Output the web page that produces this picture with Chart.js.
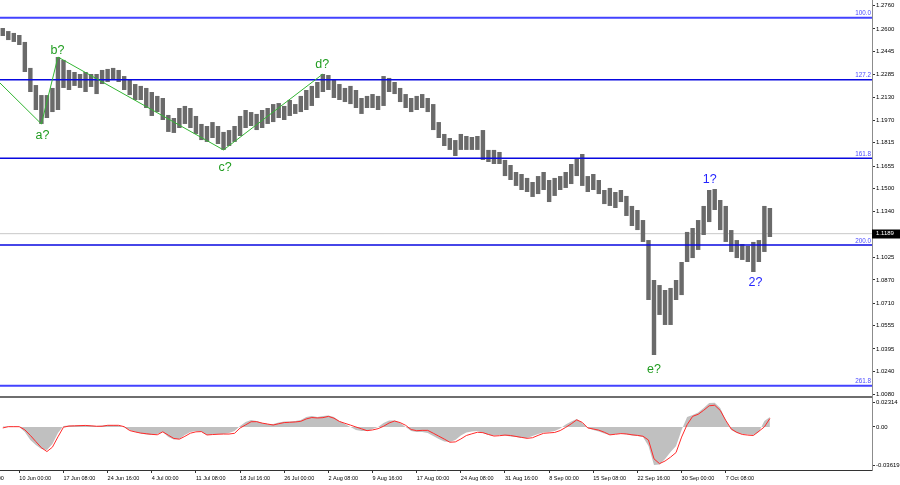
<!DOCTYPE html>
<html lang="en">
<head>
<meta charset="UTF-8">
<title>GBPUSD H4</title>
<script src="https://cdn.jsdelivr.net/npm/chart.js"></script>
<style>
    body { margin: 0; background: #fff; }
    #wrap { width: 900px; height: 485px; }
</style>
</head>
<body>
<div id="wrap"><canvas id="chart" width="900" height="485"></canvas></div>
<script>
// one bar = 16 hours (4 H4 candles), index 0 = first visible bar
const barHigh = [
    1.2606, 1.2585, 1.2572, 1.2558, 1.2510, 1.2331, 1.2213, 1.2144, 1.2144, 1.2193,
    1.2406, 1.2386, 1.2317, 1.2303, 1.2289, 1.2303, 1.2289, 1.2289, 1.2317, 1.2324,
    1.2331, 1.2317, 1.2275, 1.2248, 1.2220, 1.2207, 1.2193, 1.2165, 1.2138, 1.2124,
    1.2007, 1.1986, 1.2055, 1.2069, 1.2055, 1.2000, 1.1945, 1.1931, 1.1958, 1.1931,
    1.1890, 1.1903, 1.1931, 1.2000, 1.2041, 1.2027, 1.2014, 1.2041, 1.2055, 1.2082,
    1.2089, 1.2069, 1.2110, 1.2082, 1.2138, 1.2179, 1.2207, 1.2234, 1.2289, 1.2282,
    1.2248, 1.2220, 1.2193, 1.2207, 1.2179, 1.2124, 1.2138, 1.2151, 1.2138, 1.2275,
    1.2262, 1.2234, 1.2193, 1.2151, 1.2124, 1.2138, 1.2151, 1.2124, 1.2082, 1.1958,
    1.1876, 1.1848, 1.1834, 1.1876, 1.1862, 1.1855, 1.1862, 1.1903, 1.1766, 1.1766,
    1.1752, 1.1697, 1.1662, 1.1614, 1.1600, 1.1573, 1.1545, 1.1586, 1.1614, 1.1559,
    1.1573, 1.1586, 1.1614, 1.1669, 1.1710, 1.1738, 1.1586, 1.1600, 1.1559, 1.1490,
    1.1504, 1.1476, 1.1490, 1.1449, 1.1380, 1.1352, 1.1283, 1.1145, 1.0870, 1.0835,
    1.0801, 1.0815, 1.0870, 1.0994, 1.1201, 1.1228, 1.1283, 1.1380, 1.1490, 1.1497,
    1.1421, 1.1380, 1.1214, 1.1145, 1.1118, 1.1104, 1.1132, 1.1145, 1.1380, 1.1366
];
const barLow = [
    1.2551, 1.2523, 1.2510, 1.2489, 1.2303, 1.2165, 1.2041, 1.1945, 1.1986, 1.2027,
    1.2041, 1.2193, 1.2179, 1.2207, 1.2193, 1.2165, 1.2200, 1.2151, 1.2220, 1.2234,
    1.2248, 1.2234, 1.2179, 1.2144, 1.2110, 1.2110, 1.2055, 1.2000, 1.2027, 1.1972,
    1.1890, 1.1883, 1.1917, 1.1945, 1.1917, 1.1876, 1.1834, 1.1821, 1.1848, 1.1807,
    1.1766, 1.1793, 1.1821, 1.1862, 1.1917, 1.1931, 1.1903, 1.1917, 1.1945, 1.1958,
    1.1986, 1.1972, 1.2000, 1.2014, 1.2027, 1.2041, 1.2069, 1.2124, 1.2165, 1.2179,
    1.2124, 1.2110, 1.2096, 1.2082, 1.2055, 1.2014, 1.2055, 1.2055, 1.2041, 1.2069,
    1.2165, 1.2151, 1.2096, 1.2055, 1.2027, 1.2041, 1.2055, 1.2027, 1.1903, 1.1848,
    1.1793, 1.1766, 1.1724, 1.1766, 1.1766, 1.1766, 1.1766, 1.1697, 1.1683, 1.1669,
    1.1669, 1.1586, 1.1559, 1.1518, 1.1490, 1.1476, 1.1442, 1.1462, 1.1490, 1.1407,
    1.1449, 1.1490, 1.1504, 1.1531, 1.1586, 1.1518, 1.1476, 1.1490, 1.1462, 1.1393,
    1.1380, 1.1366, 1.1407, 1.1311, 1.1242, 1.1214, 1.1132, 1.0732, 1.0353, 1.0629,
    1.0560, 1.0560, 1.0732, 1.0766, 1.0994, 1.1021, 1.1077, 1.1180, 1.1269, 1.1352,
    1.1214, 1.1132, 1.1063, 1.1021, 1.1008, 1.0994, 1.0925, 1.0994, 1.1063, 1.1166
];

// MACD panel: histogram (grey) and signal (red)
const histValues = [
    0.0005, 0.0005, 0.0005, 0.0000, -0.0048, -0.0124, -0.0171, -0.0209, -0.0219, -0.0162,
    -0.0057, 0.0010, 0.0014, 0.0014, 0.0017, 0.0019, 0.0014, 0.0010, 0.0014, 0.0019,
    0.0019, 0.0014, -0.0005, -0.0029, -0.0048, -0.0062, -0.0071, -0.0076, -0.0067, -0.0048,
    -0.0095, -0.0119, -0.0114, -0.0076, -0.0048, -0.0038, -0.0048, -0.0076, -0.0071, -0.0067,
    -0.0067, -0.0057, -0.0038, 0.0010, 0.0048, 0.0067, 0.0057, 0.0038, 0.0029, 0.0029,
    0.0043, 0.0052, 0.0052, 0.0057, 0.0067, 0.0095, 0.0105, 0.0095, 0.0105, 0.0109,
    0.0095, 0.0057, 0.0029, 0.0000, -0.0029, -0.0038, -0.0038, -0.0019, 0.0000, 0.0038,
    0.0062, 0.0062, 0.0038, 0.0000, -0.0038, -0.0048, -0.0048, -0.0057, -0.0086, -0.0114,
    -0.0138, -0.0143, -0.0124, -0.0081, -0.0052, -0.0043, -0.0038, -0.0057, -0.0076, -0.0081,
    -0.0076, -0.0081, -0.0090, -0.0095, -0.0105, -0.0105, -0.0086, -0.0067, -0.0052, -0.0048,
    -0.0038, -0.0014, 0.0024, 0.0052, 0.0076, 0.0038, -0.0010, -0.0029, -0.0043, -0.0062,
    -0.0076, -0.0067, -0.0062, -0.0071, -0.0081, -0.0086, -0.0095, -0.0181, -0.0362, -0.0357,
    -0.0305, -0.0238, -0.0181, -0.0029, 0.0095, 0.0114, 0.0138, 0.0181, 0.0228, 0.0231,
    0.0181, 0.0067, -0.0029, -0.0057, -0.0067, -0.0071, -0.0076, -0.0048, 0.0057, 0.0095
];
const signalValues = [
    -0.0009, 0.0003, 0.0003, 0.0003, -0.0027, -0.0080, -0.0139, -0.0197, -0.0234, -0.0192,
    -0.0094, -0.0002, 0.0009, 0.0011, 0.0013, 0.0015, 0.0011, 0.0007, 0.0007, 0.0016,
    0.0016, 0.0016, 0.0003, -0.0034, -0.0047, -0.0058, -0.0064, -0.0070, -0.0074, -0.0046,
    -0.0078, -0.0109, -0.0116, -0.0089, -0.0059, -0.0046, -0.0044, -0.0076, -0.0072, -0.0069,
    -0.0067, -0.0067, -0.0060, -0.0010, 0.0020, 0.0050, 0.0051, 0.0037, 0.0028, 0.0019,
    0.0031, 0.0042, 0.0045, 0.0048, 0.0054, 0.0077, 0.0090, 0.0086, 0.0089, 0.0101,
    0.0084, 0.0053, 0.0035, 0.0018, 0.0000, -0.0017, -0.0035, -0.0028, -0.0016, 0.0007,
    0.0038, 0.0057, 0.0042, 0.0016, -0.0024, -0.0035, -0.0032, -0.0032, -0.0059, -0.0087,
    -0.0115, -0.0145, -0.0142, -0.0114, -0.0081, -0.0065, -0.0050, -0.0054, -0.0071, -0.0086,
    -0.0083, -0.0077, -0.0081, -0.0090, -0.0099, -0.0108, -0.0102, -0.0080, -0.0060, -0.0056,
    -0.0052, -0.0034, -0.0004, 0.0030, 0.0068, 0.0044, -0.0009, -0.0019, -0.0030, -0.0050,
    -0.0075, -0.0069, -0.0063, -0.0066, -0.0074, -0.0080, -0.0088, -0.0124, -0.0303, -0.0349,
    -0.0324, -0.0287, -0.0243, -0.0096, 0.0022, 0.0101, 0.0121, 0.0159, 0.0202, 0.0207,
    0.0158, 0.0063, -0.0019, -0.0051, -0.0071, -0.0077, -0.0081, -0.0041, 0.0001, 0.0081
];

const priceTicks = [1.2760, 1.2600, 1.2445, 1.2285, 1.2130, 1.1970, 1.1815, 1.1655, 1.1500,
    1.1340, 1.1025, 1.0870, 1.0710, 1.0555, 1.0395, 1.0240, 1.0080];
const oscTicks = [0.02314, 0, -0.03619];
const oscTickText = ['0.02314', '0.00', '-0.03619'];

const timeTickIdx = [-5, 3, 11, 19, 27, 35, 43, 51, 59, 67, 75, 83, 91, 99, 107, 115, 123, 131];
const timeTickText = ['2 Jun 16:00', '10 Jun 00:00', '17 Jun 08:00', '24 Jun 16:00', '4 Jul 00:00',
    '11 Jul 08:00', '18 Jul 16:00', '26 Jul 00:00', '2 Aug 08:00', '9 Aug 16:00', '17 Aug 00:00',
    '24 Aug 08:00', '31 Aug 16:00', '8 Sep 00:00', '15 Sep 08:00', '22 Sep 16:00', '30 Sep 00:00',
    '7 Oct 08:00'];

const fibNames = ['100.0', '127.2', '161.8', '200.0', '261.8'];
const fibPrices = [1.2677, 1.2250, 1.1708, 1.1111, 1.0142];
const lastPrice = 1.1189;

const zigzagIdx = [-0.5, 7, 10, 40, 58];
const zigzagPrice = [1.2227, 1.1945, 1.2406, 1.1766, 1.2289];

const waveText = ['a?', 'b?', 'c?', 'd?', 'e?', '1?', '2?'];
const waveIdx = [7.2, 9.9, 40.3, 57.9, 118, 128.1, 136.4];
const wavePrice = [1.1862, 1.2448, 1.1648, 1.2351, 1.0250, 1.1562, 1.0849];

const SLOTS = 158; // bars that fit in the plot including the empty shift on the right
const FONT = "'Liberation Sans', Arial, sans-serif";

const datasets = [];

datasets.push({
    type: 'line',
    data: [{x: -0.5, y: lastPrice}, {x: SLOTS - 0.5, y: lastPrice}],
    borderColor: '#c8c8c8', borderWidth: 1, pointRadius: 0, yAxisID: 'y', order: 30
});

datasets.push({
    type: 'bar',
    data: barHigh.map((h, i) => ({x: i, y: [barLow[i], h]})),
    backgroundColor: '#6a6a6a', borderWidth: 0,
    barPercentage: 0.8, categoryPercentage: 1, grouped: false,
    yAxisID: 'y', order: 10
});

fibPrices.forEach((p, i) => {
    const outer = i === 0 || i === fibPrices.length - 1;
    datasets.push({
        type: 'line',
        data: [{x: -0.5, y: p}, {x: SLOTS - 0.5, y: p}],
        borderColor: outer ? '#4343ff' : '#0808e0',
        borderWidth: outer ? 2 : 1.5,
        pointRadius: 0, yAxisID: 'y', order: 5
    });
});

datasets.push({
    type: 'line',
    data: zigzagIdx.map((v, i) => ({x: v, y: zigzagPrice[i]})),
    borderColor: '#33b533', borderWidth: 1, pointRadius: 0, yAxisID: 'y', order: 4
});

datasets.push({
    type: 'line',
    data: histValues.map((v, i) => ({x: i, y: v})),
    borderColor: 'rgba(0,0,0,0)', borderWidth: 0,
    backgroundColor: '#c0c0c0', fill: 'origin',
    pointRadius: 0, yAxisID: 'y2', order: 20
});

datasets.push({
    type: 'line',
    data: signalValues.map((v, i) => ({x: i, y: v})),
    borderColor: '#ff2a2a', borderWidth: 1, pointRadius: 0, yAxisID: 'y2', order: 1
});

// texts and frame pieces that MT4 draws on top
const overlay = {
    id: 'overlay',
    afterDatasetsDraw(chart) {
        const {ctx, chartArea} = chart;
        const {x, y} = chart.scales;
        ctx.save();
        ctx.font = '6.3px ' + FONT;
        ctx.fillStyle = '#4b4bff';
        ctx.textAlign = 'right';
        ctx.textBaseline = 'bottom';
        fibNames.forEach((t, i) => {
            ctx.fillText(t, chartArea.right - 1, y.getPixelForValue(fibPrices[i]) - 1);
        });

        ctx.font = '12.5px ' + FONT;
        ctx.textAlign = 'center';
        ctx.textBaseline = 'middle';
        waveText.forEach((t, i) => {
            ctx.fillStyle = i < 5 ? '#1f9c1f' : '#2525ff';
            ctx.fillText(t, x.getPixelForValue(waveIdx[i]), y.getPixelForValue(wavePrice[i]));
        });
        ctx.restore();
    },
    afterDraw(chart) {
        const {ctx, chartArea} = chart;
        const {y, y2} = chart.scales;
        ctx.save();
        // separator between the two panes
        ctx.fillStyle = '#6e6e6e';
        ctx.fillRect(0, y2.top - 1, chartArea.right, 2);

        // last price box
        const py = y.getPixelForValue(lastPrice);
        ctx.fillStyle = '#000';
        ctx.fillRect(chartArea.right, Math.round(py) - 4.5, 900 - chartArea.right, 9);
        ctx.fillStyle = '#fff';
        ctx.font = '6px ' + FONT;
        ctx.textAlign = 'left';
        ctx.textBaseline = 'middle';
        ctx.fillText(lastPrice.toFixed(4), chartArea.right + 4, py);
        ctx.restore();
    }
};

new Chart(document.getElementById('chart'), {
    type: 'bar',
    data: { datasets: datasets },
    plugins: [overlay],
    options: {
        responsive: false,
        animation: false,
        devicePixelRatio: 1,
        layout: { padding: 0 },
        plugins: {
            legend: { display: false },
            tooltip: { enabled: false }
        },
        scales: {
            x: {
                type: 'linear',
                min: -0.5,
                max: SLOTS - 0.5,
                offset: false,
                bounds: 'data',
                grid: { offset: false, drawOnChartArea: false, tickLength: 3, color: '#333' },
                border: { color: '#333' },
                ticks: {
                    autoSkip: false, maxRotation: 0, minRotation: 0,
                    align: 'start', padding: 2, color: '#000',
                    font: { family: FONT, size: 5.5 },
                    callback: function(value) {
                        const k = timeTickIdx.indexOf(value);
                        return k >= 0 ? timeTickText[k] : '';
                    }
                },
                afterBuildTicks: function(scale) {
                    scale.ticks = timeTickIdx.map(v => ({ value: v }));
                },
                afterFit: function(scale) {
                    scale.height = 15;
                    // the first label hangs off the left edge, as in the terminal
                    scale.paddingLeft = 0;
                    scale.paddingRight = 0;
                }
            },
            y: {
                type: 'linear',
                position: 'right',
                stack: 'panes',
                stackWeight: 397,
                min: 1.00637,
                max: 1.2799,
                bounds: 'data',
                grid: { drawOnChartArea: false, tickLength: 3, color: '#333' },
                border: { color: '#8c8c8c' },
                ticks: {
                    padding: 1, color: '#000',
                    font: { family: FONT, size: 6 },
                    callback: function(value) { return value.toFixed(4); }
                },
                afterBuildTicks: function(scale) {
                    scale.ticks = priceTicks.map(v => ({ value: v }));
                },
                afterFit: function(scale) {
                    scale.width = 28;
                    scale.paddingTop = 0;
                    scale.paddingBottom = 0;
                }
            },
            y2: {
                type: 'linear',
                position: 'right',
                stack: 'panes',
                stackWeight: 73,
                min: -0.04094,
                max: 0.02856,
                bounds: 'data',
                grid: { drawOnChartArea: false, tickLength: 3, color: '#333' },
                border: { color: '#8c8c8c' },
                ticks: {
                    padding: 1, color: '#000',
                    font: { family: FONT, size: 6 },
                    callback: function(value, index) { return oscTickText[index]; }
                },
                afterBuildTicks: function(scale) {
                    scale.ticks = oscTicks.map(v => ({ value: v }));
                },
                afterFit: function(scale) {
                    scale.width = 28;
                    scale.paddingTop = 0;
                    scale.paddingBottom = 0;
                }
            }
        }
    }
});
</script>
</body>
</html>
